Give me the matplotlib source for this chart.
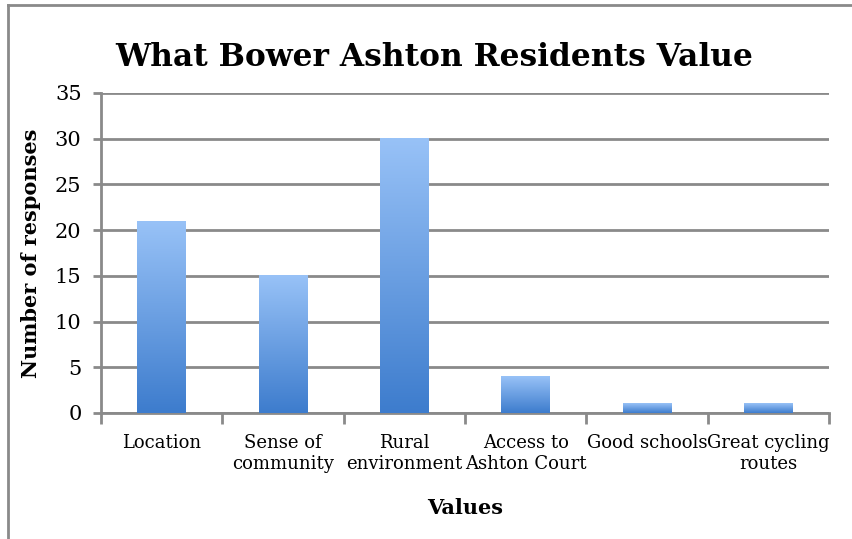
import numpy as np
import matplotlib
matplotlib.use("Agg")
import matplotlib.pyplot as plt
from matplotlib.lines import Line2D
from matplotlib.colors import LinearSegmentedColormap

categories = ["Location", "Sense of\ncommunity", "Rural\nenvironment",
              "Access to\nAshton Court", "Good schools", "Great cycling\nroutes"]
responses = [21, 15, 30, 4, 1, 1]
yticks = [0, 5, 10, 15, 20, 25, 30, 35]

plt.rcParams['font.family'] = ['DejaVu Serif']

fig = plt.figure(figsize=(8.52, 5.39), dpi=100)
ax = fig.add_axes([101/852, 1-413/539, 728/852, 320/539])

grad = LinearSegmentedColormap.from_list("g", ["#3d7ccd", "#98c2f7"])
x = np.arange(len(categories))
width = 0.4
bars = ax.bar(x, responses, width=width, color="none", zorder=3)
g = np.linspace(0, 1, 256).reshape(-1, 1)
for b in bars:
    x0, y0 = b.get_x(), b.get_y()
    w, h = b.get_width(), b.get_height()
    ax.imshow(g, cmap=grad, origin="lower", aspect="auto",
              extent=[x0, x0 + w, y0, y0 + h], zorder=3)

ax.set_xlim(-0.5, len(categories) - 0.5)
ax.set_ylim(0, 35)
ax.set_yticks(yticks)
ax.yaxis.grid(True, color="#8a8a8a", linewidth=2)
ax.set_axisbelow(True)
for s in ["top", "right"]:
    ax.spines[s].set_visible(False)
for s in ["left", "bottom"]:
    ax.spines[s].set_color("#8a8a8a")
    ax.spines[s].set_linewidth(2)

ax.set_xticks(np.arange(len(categories) + 1) - 0.5, minor=False)
ax.set_xticklabels([])
ax.set_xticks(x, minor=True)
ax.set_xticklabels(categories, minor=True, fontsize=13, linespacing=1.25)
ax.tick_params(axis="x", which="minor", length=0, pad=15)
ax.tick_params(axis="x", which="major", length=8, width=2, color="#8a8a8a")
ax.tick_params(axis="y", length=6, width=2, color="#8a8a8a", labelsize=15, pad=8)

ax.set_ylabel("Number of responses", fontsize=15, fontweight="bold", labelpad=10)
ax.set_xlabel("Values", fontsize=15, fontweight="bold", labelpad=18)
fig.text(434/852, 1-57/539, "What Bower Ashton Residents Value", ha="center", va="center",
         fontsize=22.5, fontweight="bold")

fig.add_artist(Line2D([8/852, 8/852], [0, 1-5/539], transform=fig.transFigure,
                      color="#8a8a8a", linewidth=2))
fig.add_artist(Line2D([8/852, 1], [1-5/539, 1-5/539], transform=fig.transFigure,
                      color="#8a8a8a", linewidth=2))

fig.savefig("out.png", dpi=100)
